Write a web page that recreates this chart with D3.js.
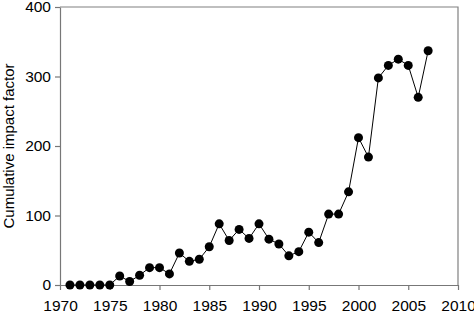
<!DOCTYPE html>
<html>
<head>
<meta charset="utf-8">
<script src="https://cdn.jsdelivr.net/npm/d3@7"></script>
<style>
  body { margin: 0; background: #fff; }
  svg { display: block; font-family: "Liberation Sans", Arial, sans-serif; }
</style>
</head>
<body>
<div id="chart"></div>
<script>
  // data
  let years = [1971, 1972, 1973, 1974, 1975, 1976, 1977, 1978, 1979, 1980,
    1981, 1982, 1983, 1984, 1985, 1986, 1987, 1988, 1989, 1990,
    1991, 1992, 1993, 1994, 1995, 1996, 1997, 1998, 1999, 2000,
    2001, 2002, 2003, 2004, 2005, 2006, 2007]
  let impact = [0, 0, 0, 0, 0, 13, 5, 14, 25, 25,
    16, 46, 34, 37, 55, 88, 64, 80, 67, 88,
    66, 59, 42, 48, 76, 61, 102, 102, 134, 212,
    184, 298, 316, 325, 316, 270, 337]
  let xTicks = [1970, 1975, 1980, 1985, 1990, 1995, 2000, 2005, 2010]
  let yTicks = [0, 100, 200, 300, 400]

  let width = 474,
  height = 318
  let margin = { top: 7, right: 16, bottom: 33, left: 60 }

  let svg = d3.select('#chart')
    .append('svg')
    .attr('width', width)
    .attr('height', height)

  let x = d3.scaleLinear()
    .domain([1970, 2010])
    .range([margin.left, width - margin.right])

  let y = d3.scaleLinear()
    .domain([0, 400])
    .range([height - margin.bottom, margin.top])

  // frame (top and right)
  svg.append('path')
    .attr('d', `M${x(1970)},${y(400)}H${x(2010)}V${y(0)}`)
    .attr('fill', 'none')
    .attr('stroke', '#808080')
    .attr('stroke-width', 1.2)

  let xAxis = svg.append('g')
    .attr('transform', `translate(0,${y(0)})`)
    .call(d3.axisBottom(x).tickValues(xTicks).tickFormat(d3.format('d')).tickSize(5).tickSizeOuter(0))

  let yAxis = svg.append('g')
    .attr('transform', `translate(${x(1970)},0)`)
    .call(d3.axisLeft(y).tickValues(yTicks).tickSize(5).tickSizeOuter(0))

  svg.selectAll('.domain, .tick line')
    .attr('stroke', '#777')
    .attr('stroke-width', 1.2)

  svg.selectAll('.tick text')
    .attr('fill', '#000')
    .style('font-size', '15.5px')
    .style('font-family', '"Liberation Sans", Arial, sans-serif')

  xAxis.selectAll('.tick text').attr('dy', '1.15em')
  yAxis.selectAll('.tick text').attr('x', -9)

  svg.append('text')
    .attr('transform', `translate(14,${(y(0) + y(400)) / 2}) rotate(-90)`)
    .attr('text-anchor', 'middle')
    .style('font-size', '15px')
    .text('Cumulative impact factor')

  let points = years.map((d, i) => ({ year: d, value: impact[i] }))

  let line = d3.line()
    .x((d) => x(d.year))
    .y((d) => y(d.value))

  svg.append('path')
    .datum(points)
    .attr('d', line)
    .attr('fill', 'none')
    .attr('stroke', '#000')
    .attr('stroke-width', 1)

  svg.selectAll('.dot')
    .data(points)
    .enter()
    .append('circle')
    .attr('class', 'dot')
    .attr('cx', (d) => x(d.year))
    .attr('cy', (d) => y(d.value))
    .attr('r', 4.5)
    .attr('fill', '#000')
</script>
</body>
</html>
